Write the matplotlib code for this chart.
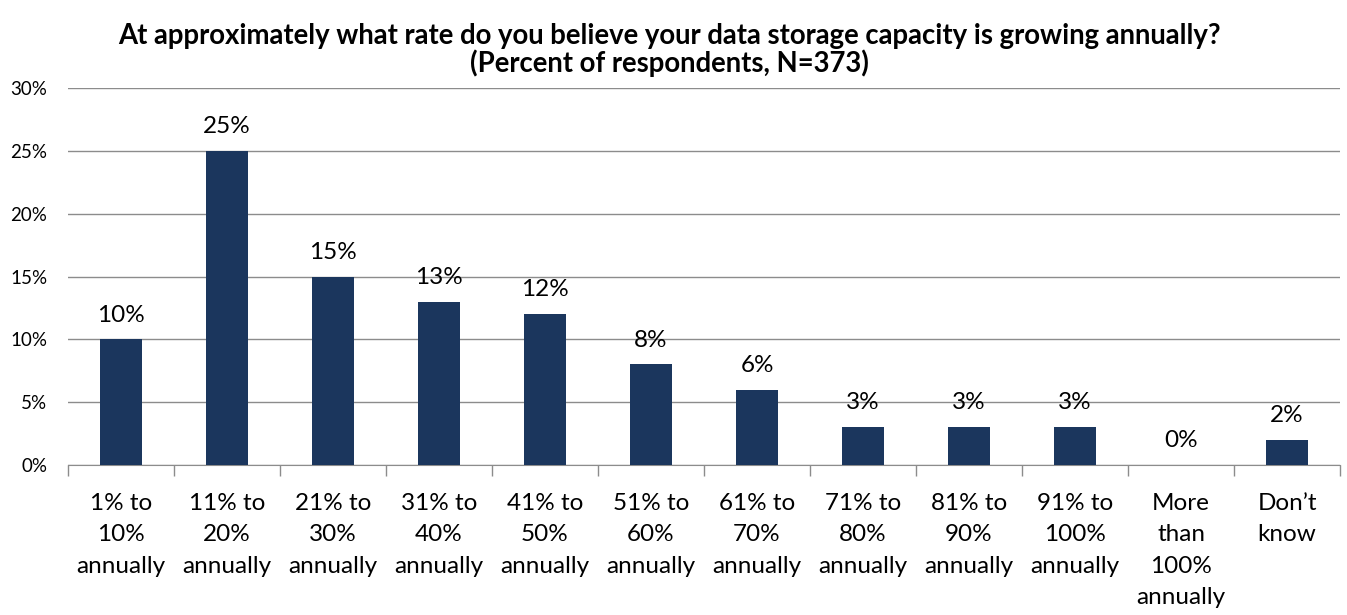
import matplotlib
matplotlib.use("Agg")
import numpy as np
from matplotlib import pyplot as plt
from matplotlib.ticker import MultipleLocator, FuncFormatter

plt.rcParams['font.family'] = ['Lato', 'DejaVu Sans']

categories = ["1% to\n10%\nannually", "11% to\n20%\nannually", "21% to\n30%\nannually",
              "31% to\n40%\nannually", "41% to\n50%\nannually", "51% to\n60%\nannually",
              "61% to\n70%\nannually", "71% to\n80%\nannually", "81% to\n90%\nannually",
              "91% to\n100%\nannually", "More\nthan\n100%\nannually", "Don\u2019t\nknow"]
values = [10, 25, 15, 13, 12, 8, 6, 3, 3, 3, 0, 2]

title = ("At approximately what rate do you believe your data storage capacity is growing annually?\n"
         "(Percent of respondents, N=373)")

bar_color = "#1B365D"
grid_color = "#8C8C8C"

fig = plt.figure(figsize=(13.47, 6.15), dpi=100)
ax = fig.add_axes([68 / 1347, 1 - 465 / 615, (1340 - 68) / 1347, (465 - 88) / 615])

x = np.arange(len(categories))
bars = ax.bar(x, values, width=0.4, color=bar_color, zorder=3)

for xi, v in zip(x, values):
    ax.text(xi, v + 1.1, f"{v}%", ha="center", va="bottom", fontsize=17.5)

ax.set_xlim(-0.5, len(categories) - 0.5)
ax.set_ylim(0, 30)
ax.yaxis.set_major_locator(MultipleLocator(5))
ax.yaxis.set_major_formatter(FuncFormatter(lambda v, p: f"{v:.0f}%"))
ax.grid(axis="y", color=grid_color, linewidth=1, zorder=0)

ax.set_xticks(x)
ax.set_xticklabels(categories, fontsize=17.5, linespacing=1.62)
ax.set_xticks(np.arange(-0.5, len(categories)), minor=True)
ax.tick_params(axis="x", which="major", length=0, pad=20)
ax.tick_params(axis="x", which="minor", length=8, color=grid_color, width=1)
ax.tick_params(axis="y", length=0, labelsize=13.5, pad=15)

for side in ["top", "right", "left"]:
    ax.spines[side].set_visible(False)
ax.spines["bottom"].set_color(grid_color)

fig.text(0.497, 1 - 23 / 615, title, ha="center", va="top", fontsize=19.8, fontweight="bold",
         linespacing=1.0)

fig.savefig("out.png", dpi=100)
